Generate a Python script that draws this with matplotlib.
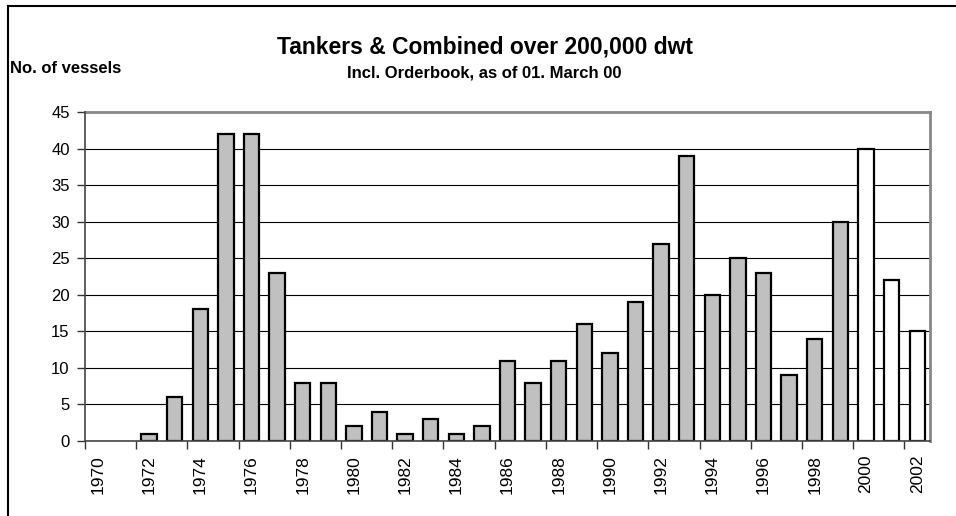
import matplotlib.pyplot as plt
from matplotlib.lines import Line2D

years = list(range(1970, 2003))
vessels = [0, 0, 1, 6, 18, 42, 42, 23, 8, 8, 2, 4, 1, 3, 1, 2, 11, 8, 11, 16,
           12, 19, 27, 39, 20, 25, 23, 9, 14, 30, 40, 22, 15]
orderbook = [y >= 2000 for y in years]

plt.rcParams['font.family'] = ['Liberation Sans', 'DejaVu Sans']

fig = plt.figure(figsize=(9.56, 5.16), dpi=100)
ax = fig.add_axes([0.0889, 0.1453, 0.9728 - 0.0889, 0.783 - 0.1453])

x = list(range(len(years)))
colors = ['white' if o else '#c0c0c0' for o in orderbook]
# empty years get no outline, like the original
edges = [0 if v == 0 else 1.6 for v in vessels]
ax.bar(x, vessels, width=0.6, color=colors, edgecolor='black', linewidth=edges, zorder=2)

ax.set_xlim(-0.5, len(years) - 0.5)
ax.set_ylim(0, 45)
ax.set_yticks(range(0, 46, 5))
ax.yaxis.grid(True, color='black', linewidth=0.8, zorder=0)

# labels at category centres, tick marks on category boundaries
ax.set_xticks(x[::2])
ax.set_xticklabels([str(y) for y in years[::2]], rotation=90)
ax.set_xticks([i - 0.5 for i in x[::2]], minor=True)
ax.tick_params(axis='x', which='major', length=0, pad=10, labelsize=12.5)
ax.tick_params(axis='x', which='minor', length=6, width=1, color='#333333')
ax.tick_params(axis='y', length=6, width=1, color='#333333', pad=5, labelsize=12)

for s in ['top', 'right']:
    ax.spines[s].set_color('#888888')
    ax.spines[s].set_linewidth(2)
for s in ['left', 'bottom']:
    ax.spines[s].set_color('#444444')
    ax.spines[s].set_linewidth(1.2)
    ax.spines[s].set_zorder(3)

fig.text(0.507, 0.909, 'Tankers & Combined over 200,000 dwt', ha='center', va='center',
         fontsize=16.5, fontweight='bold')
fig.text(0.507, 0.859, 'Incl. Orderbook, as of 01. March 00', ha='center', va='center',
         fontsize=12, fontweight='bold')
fig.text(0.0105, 0.868, 'No. of vessels', ha='left', va='center',
         fontsize=12, fontweight='bold')

# outer frame (only left and top visible)
fig.add_artist(Line2D([8 / 956, 8 / 956], [0, 1 - 6 / 516], transform=fig.transFigure,
                      color='black', linewidth=1.5))
fig.add_artist(Line2D([8 / 956, 1], [1 - 6 / 516, 1 - 6 / 516], transform=fig.transFigure,
                      color='black', linewidth=1.5))

fig.savefig('out.png', dpi=100)
